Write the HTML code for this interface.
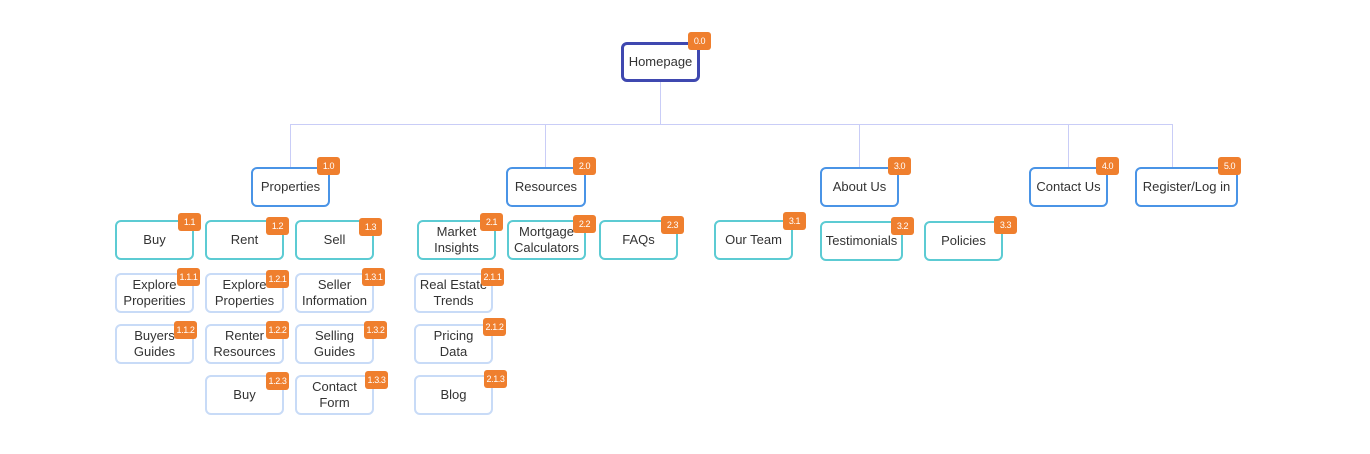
<!DOCTYPE html>
<html><head><meta charset="utf-8"><style>
body{margin:0;width:1370px;height:454px;background:#fff;position:relative;overflow:hidden;font-family:"Liberation Sans",sans-serif;}
.n{position:absolute;box-sizing:border-box;border-radius:6px;background:#fff;display:flex;align-items:center;justify-content:center;text-align:center;font-size:13px;color:#333;line-height:16px;}
.h{border:3px solid #3f48b0;}
.b{border:2.5px solid #4a94e6;}
.t{border:2.5px solid #5ccbd3;}
.l{border:2px solid #c8dbf7;}
.g{position:absolute;background:#ef7f2e;color:#fff;font-size:9px;letter-spacing:-0.4px;border-radius:3px;width:23px;height:18px;line-height:18px;text-align:center;}
.ln{position:absolute;background:#c9cdf7;}
</style></head><body>
<div class="ln" style="left:660px;top:81px;width:1px;height:43px"></div>
<div class="ln" style="left:290px;top:124px;width:883px;height:1px"></div>
<div class="ln" style="left:290px;top:124px;width:1px;height:43px"></div>
<div class="ln" style="left:545px;top:124px;width:1px;height:43px"></div>
<div class="ln" style="left:859px;top:124px;width:1px;height:43px"></div>
<div class="ln" style="left:1068px;top:124px;width:1px;height:43px"></div>
<div class="ln" style="left:1172px;top:124px;width:1px;height:43px"></div>

<div class="n h" style="left:621px;top:42px;width:79px;height:40px">Homepage</div><div class="g" style="left:688px;top:32px">0.0</div>

<div class="n b" style="left:251px;top:167px;width:79px;height:40px">Properties</div><div class="g" style="left:317px;top:157px">1.0</div>
<div class="n b" style="left:506px;top:167px;width:80px;height:40px">Resources</div><div class="g" style="left:573px;top:157px">2.0</div>
<div class="n b" style="left:820px;top:167px;width:79px;height:40px">About Us</div><div class="g" style="left:888px;top:157px">3.0</div>
<div class="n b" style="left:1029px;top:167px;width:79px;height:40px">Contact Us</div><div class="g" style="left:1096px;top:157px">4.0</div>
<div class="n b" style="left:1135px;top:167px;width:103px;height:40px">Register/Log in</div><div class="g" style="left:1218px;top:157px">5.0</div>

<div class="n t" style="left:115px;top:220px;width:79px;height:40px">Buy</div><div class="g" style="left:178px;top:213px">1.1</div>
<div class="n t" style="left:205px;top:220px;width:79px;height:40px">Rent</div><div class="g" style="left:266px;top:217px">1.2</div>
<div class="n t" style="left:295px;top:220px;width:79px;height:40px">Sell</div><div class="g" style="left:359px;top:218px">1.3</div>
<div class="n t" style="left:417px;top:220px;width:79px;height:40px">Market<br>Insights</div><div class="g" style="left:480px;top:213px">2.1</div>
<div class="n t" style="left:507px;top:220px;width:79px;height:40px">Mortgage<br>Calculators</div><div class="g" style="left:573px;top:215px">2.2</div>
<div class="n t" style="left:599px;top:220px;width:79px;height:40px">FAQs</div><div class="g" style="left:661px;top:216px">2.3</div>
<div class="n t" style="left:714px;top:220px;width:79px;height:40px">Our Team</div><div class="g" style="left:783px;top:212px">3.1</div>
<div class="n t" style="left:820px;top:221px;width:83px;height:40px">Testimonials</div><div class="g" style="left:891px;top:217px">3.2</div>
<div class="n t" style="left:924px;top:221px;width:79px;height:40px">Policies</div><div class="g" style="left:994px;top:216px">3.3</div>

<div class="n l" style="left:115px;top:273px;width:79px;height:40px">Explore<br>Properities</div><div class="g" style="left:177px;top:268px">1.1.1</div>
<div class="n l" style="left:205px;top:273px;width:79px;height:40px">Explore<br>Properties</div><div class="g" style="left:266px;top:270px">1.2.1</div>
<div class="n l" style="left:295px;top:273px;width:79px;height:40px">Seller<br>Information</div><div class="g" style="left:362px;top:268px">1.3.1</div>
<div class="n l" style="left:414px;top:273px;width:79px;height:40px">Real Estate<br>Trends</div><div class="g" style="left:481px;top:268px">2.1.1</div>

<div class="n l" style="left:115px;top:324px;width:79px;height:40px">Buyers<br>Guides</div><div class="g" style="left:174px;top:321px">1.1.2</div>
<div class="n l" style="left:205px;top:324px;width:79px;height:40px">Renter<br>Resources</div><div class="g" style="left:266px;top:321px">1.2.2</div>
<div class="n l" style="left:295px;top:324px;width:79px;height:40px">Selling<br>Guides</div><div class="g" style="left:364px;top:321px">1.3.2</div>
<div class="n l" style="left:414px;top:324px;width:79px;height:40px">Pricing<br>Data</div><div class="g" style="left:483px;top:318px">2.1.2</div>

<div class="n l" style="left:205px;top:375px;width:79px;height:40px">Buy</div><div class="g" style="left:266px;top:372px">1.2.3</div>
<div class="n l" style="left:295px;top:375px;width:79px;height:40px">Contact<br>Form</div><div class="g" style="left:365px;top:371px">1.3.3</div>
<div class="n l" style="left:414px;top:375px;width:79px;height:40px">Blog</div><div class="g" style="left:484px;top:370px">2.1.3</div>
</body></html>
